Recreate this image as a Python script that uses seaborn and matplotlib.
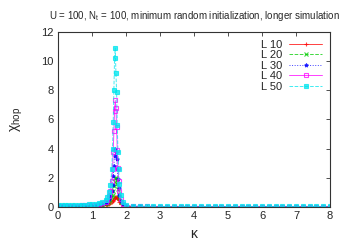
import matplotlib
matplotlib.use("Agg")
import matplotlib.pyplot as plt
import seaborn as sns
import pandas as pd

# kappa grid: coarse on the left, dense near the peak, coarse tail
kappa = [0.0, 0.1, 0.2, 0.3, 0.4, 0.5, 0.6, 0.7, 0.8, 0.9, 1.0, 1.1, 1.2, 1.3, 1.4,
         1.45, 1.5, 1.54, 1.58, 1.6, 1.62, 1.64, 1.66, 1.68, 1.70, 1.72, 1.74,
         1.76, 1.78, 1.8, 1.84, 1.9,
         2.0, 2.2, 2.4, 2.6, 2.8, 3.0, 3.2, 3.4, 3.6, 3.8, 4.0, 4.2, 4.4, 4.6,
         4.8, 5.0, 5.2, 5.4, 5.6, 5.8, 6.0, 6.2, 6.4, 6.6, 6.8, 7.0, 7.2, 7.4,
         7.6, 7.8, 8.0]

L10 = [0.02, 0.02, 0.02, 0.02, 0.02, 0.02, 0.03, 0.03, 0.03, 0.04, 0.04, 0.05, 0.05, 0.07, 0.10,
       0.14, 0.20, 0.27, 0.36, 0.42, 0.50, 0.57, 0.63, 0.68, 0.70, 0.68, 0.62,
       0.54, 0.45, 0.36, 0.22, 0.11,
       0.04, 0.02, 0.02, 0.01, 0.01, 0.01, 0.01, 0.01, 0.01, 0.01, 0.01, 0.01, 0.01, 0.01,
       0.01, 0.01, 0.01, 0.01, 0.01, 0.01, 0.01, 0.01, 0.01, 0.01, 0.01, 0.01, 0.01, 0.01,
       0.01, 0.01, 0.01]
L20 = [0.03, 0.03, 0.03, 0.03, 0.04, 0.04, 0.04, 0.05, 0.05, 0.06, 0.06, 0.07, 0.09, 0.12, 0.18,
       0.25, 0.35, 0.48, 0.68, 0.85, 1.10, 1.40, 1.70, 1.95, 2.00, 1.85, 1.55,
       1.20, 0.90, 0.62, 0.32, 0.14,
       0.05, 0.03, 0.02, 0.02, 0.01, 0.01, 0.01, 0.01, 0.01, 0.01, 0.01, 0.01, 0.01, 0.01,
       0.01, 0.01, 0.01, 0.01, 0.01, 0.01, 0.01, 0.01, 0.01, 0.01, 0.01, 0.01, 0.01, 0.01,
       0.01, 0.01, 0.01]
L30 = [0.04, 0.04, 0.05, 0.05, 0.05, 0.06, 0.06, 0.07, 0.07, 0.08, 0.09, 0.11, 0.13, 0.17, 0.26,
       0.36, 0.52, 0.75, 1.10, 1.50, 2.10, 2.80, 3.50, 4.00, 3.80, 3.30, 2.60,
       1.90, 1.30, 0.85, 0.42, 0.17,
       0.06, 0.04, 0.03, 0.02, 0.02, 0.02, 0.02, 0.02, 0.02, 0.02, 0.02, 0.02, 0.02, 0.02,
       0.02, 0.02, 0.02, 0.02, 0.02, 0.02, 0.02, 0.02, 0.02, 0.02, 0.02, 0.02, 0.02, 0.02,
       0.02, 0.02, 0.02]
L40 = [0.06, 0.06, 0.07, 0.07, 0.08, 0.08, 0.09, 0.10, 0.10, 0.11, 0.13, 0.15, 0.18, 0.24, 0.36,
       0.50, 0.75, 1.10, 1.80, 2.60, 3.80, 5.20, 6.60, 7.30, 6.80, 5.50, 3.90,
       2.70, 1.80, 1.10, 0.55, 0.22,
       0.08, 0.04, 0.03, 0.03, 0.02, 0.02, 0.02, 0.02, 0.02, 0.02, 0.02, 0.02, 0.02, 0.02,
       0.02, 0.02, 0.02, 0.02, 0.02, 0.02, 0.02, 0.02, 0.02, 0.02, 0.02, 0.02, 0.02, 0.02,
       0.02, 0.02, 0.02]
L50 = [0.10, 0.10, 0.11, 0.11, 0.12, 0.13, 0.14, 0.15, 0.16, 0.18, 0.20, 0.23, 0.27, 0.34, 0.50,
       0.68, 1.00, 1.50, 2.60, 4.00, 5.80, 8.00, 10.2, 10.9, 9.2, 7.9, 5.6,
       3.8, 2.6, 1.6, 0.85, 0.35,
       0.12, 0.06, 0.05, 0.04, 0.04, 0.03, 0.03, 0.03, 0.03, 0.03, 0.03, 0.03, 0.03, 0.03,
       0.03, 0.03, 0.03, 0.03, 0.03, 0.03, 0.03, 0.03, 0.03, 0.03, 0.03, 0.03, 0.03, 0.03,
       0.03, 0.03, 0.03]

series = [('L 10', L10, '#ff0000', '-', '+'),
          ('L 20', L20, '#00cc00', '--', 'x'),
          ('L 30', L30, '#0000ff', ':', '*'),
          ('L 40', L40, '#ff00ff', '-', 's'),
          ('L 50', L50, '#00e5ee', '--', 's')]

sns.set_style("white")
plt.rcParams['font.family'] = ['Liberation Sans', 'DejaVu Sans']
plt.rcParams['mathtext.default'] = 'regular'

fig = plt.figure(figsize=(3.46, 2.42), dpi=100)
ax = fig.add_axes([0.168, 0.145, 0.786, 0.723])

for name, vals, col, ls, mk in series:
    df = pd.DataFrame({'kappa': kappa, 'chi': vals})
    filled = name == 'L 50'
    sns.lineplot(data=df, x='kappa', y='chi', ax=ax, color=col, linestyle=ls,
                 linewidth=0.7, alpha=0.75, marker=mk, markersize=2.8,
                 markerfacecolor=col if (filled or mk != 's') else 'none',
                 markeredgecolor=col, markeredgewidth=0.8, label=name)

ax.set_xlim(0, 8)
ax.set_ylim(0, 12)
ax.set_xticks(range(0, 9))
ax.set_yticks(range(0, 13, 2))
ax.tick_params(direction='in', top=True, right=True, labelsize=8, length=3,
               width=0.6, color='#333333', pad=3)
for s in ax.spines.values():
    s.set_linewidth(0.8)
    s.set_color('#333333')

ax.set_xlabel('κ', fontsize=10, labelpad=4)
ax.set_ylabel('χ$_{hop}$', fontsize=10, labelpad=12)
ax.set_title('U = 100, N$_t$ = 100, minimum random initialization, longer simulation',
             fontsize=7, pad=9)

ax.legend(loc='upper right', frameon=False, markerfirst=False, fontsize=8,
          handlelength=3.0, labelspacing=0.05, borderaxespad=0.3, handletextpad=0.6)

fig.savefig('out.png', dpi=100)
